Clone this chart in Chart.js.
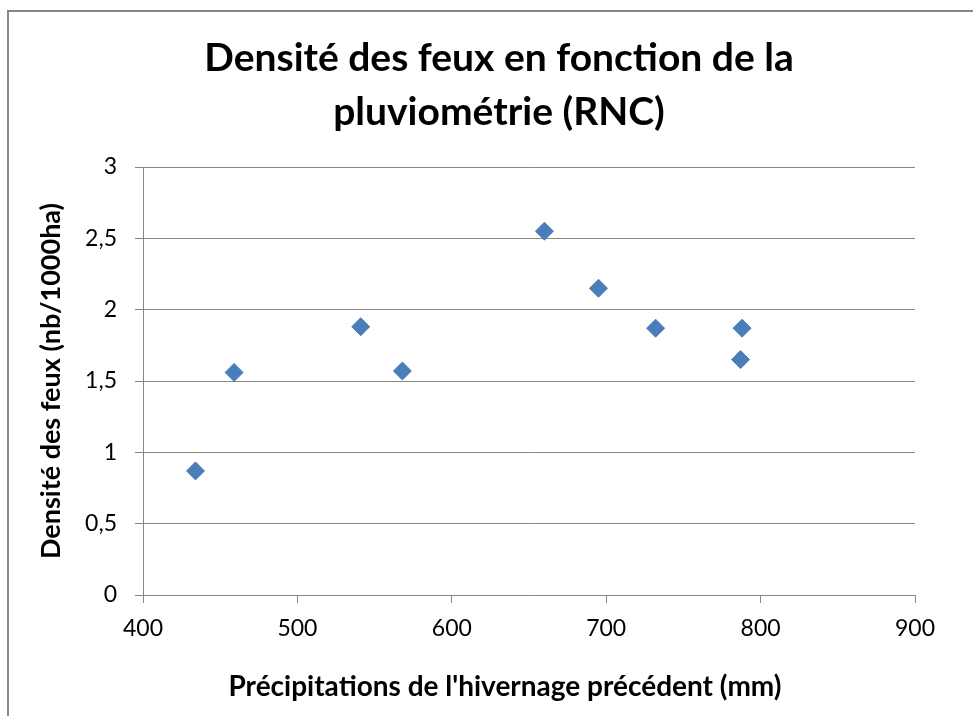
<!DOCTYPE html>
<html>
<head>
<meta charset="utf-8">
<title>Densité des feux</title>
<script src="https://cdn.jsdelivr.net/npm/chart.js@4.4.1/dist/chart.umd.min.js"></script>
<style>
  html, body { margin: 0; padding: 0; background: #fff; }
  #wrap { width: 973px; height: 716px; position: relative; }
</style>
</head>
<body>
<div id="wrap"><canvas id="chart" width="973" height="716"></canvas></div>
<script>
// --- data ---
const rainfall = [434, 459, 541, 568, 660, 695, 732, 788, 787];
const fireDensity = [0.87, 1.56, 1.88, 1.57, 2.55, 2.15, 1.87, 1.87, 1.65];
const xTicks = [400, 500, 600, 700, 800, 900];
const yTicks = [0, 0.5, 1, 1.5, 2, 2.5, 3];

const titleLines = ['Densité des feux en fonction de la', 'pluviométrie (RNC)'];
const xTitle = "Précipitations de l'hivernage précédent (mm)";
const yTitle = 'Densité des feux (nb/1000ha)';

const axisGrey = '#868686';
const markerBlue = '#4A7EBB';

Chart.defaults.font.family = 'Lato, "Open Sans", sans-serif';
Chart.defaults.color = '#000';

// white background + the outer chart frame (only its top/left edges are visible)
const frame = {
  id: 'frame',
  beforeDraw(chart) {
    const { ctx, width, height } = chart;
    ctx.save();
    ctx.fillStyle = '#fff';
    ctx.fillRect(0, 0, width, height);
    ctx.strokeStyle = axisGrey;
    ctx.lineWidth = 2;
    ctx.strokeRect(8, 11, width + 20, height + 20);
    ctx.restore();
  }
};

// chart title and x axis title (Excel centres them on the whole chart object)
const titles = {
  id: 'titles',
  afterDraw(chart) {
    const { ctx } = chart;
    ctx.save();
    ctx.fillStyle = '#000';
    ctx.textAlign = 'center';
    ctx.textBaseline = 'middle';
    ctx.font = 'bold 39px Lato';
    titleLines.forEach((line, i) => ctx.fillText(line, 499, 58 + i * 54));
    ctx.font = 'bold 28px Lato';
    ctx.fillText(xTitle, 505, 687);
    ctx.restore();
  }
};

new Chart(document.getElementById('chart'), {
  type: 'scatter',
  data: {
    datasets: [{
      label: 'Densité',
      data: rainfall.map((x, i) => ({ x, y: fireDensity[i] })),
      pointStyle: 'rectRot',
      pointRadius: 9,
      pointHoverRadius: 9,
      borderWidth: 1,
      backgroundColor: markerBlue,
      borderColor: markerBlue
    }]
  },
  options: {
    responsive: false,
    animation: false,
    devicePixelRatio: 1,
    layout: { padding: { left: 0, top: 167, right: 58, bottom: 0 } },
    plugins: { legend: { display: false }, tooltip: { enabled: false } },
    scales: {
      x: {
        type: 'linear',
        min: xTicks[0],
        max: xTicks[xTicks.length - 1],
        afterBuildTicks: s => { s.ticks = xTicks.map(v => ({ value: v })); },
        afterFit: s => { s.height = 121; },
        grid: { drawOnChartArea: false, drawTicks: true, tickLength: 8, color: axisGrey },
        border: { display: true, color: axisGrey, width: 1 },
        ticks: { font: { size: 23 }, padding: 12, color: '#000' }
      },
      y: {
        type: 'linear',
        min: yTicks[0],
        max: yTicks[yTicks.length - 1],
        afterBuildTicks: s => { s.ticks = yTicks.map(v => ({ value: v })); },
        afterFit: s => { s.width = 143; },
        grid: { color: axisGrey, tickLength: 8 },
        border: { display: true, color: axisGrey, width: 1 },
        ticks: {
          font: { size: 23 },
          padding: 18,
          color: '#000',
          callback: v => String(v).replace('.', ',')
        },
        title: {
          display: true,
          text: yTitle,
          font: { size: 27, weight: 'bold' },
          color: '#000',
          padding: { top: 35, bottom: 0 }
        }
      }
    }
  },
  plugins: [frame, titles]
});
</script>
</body>
</html>
